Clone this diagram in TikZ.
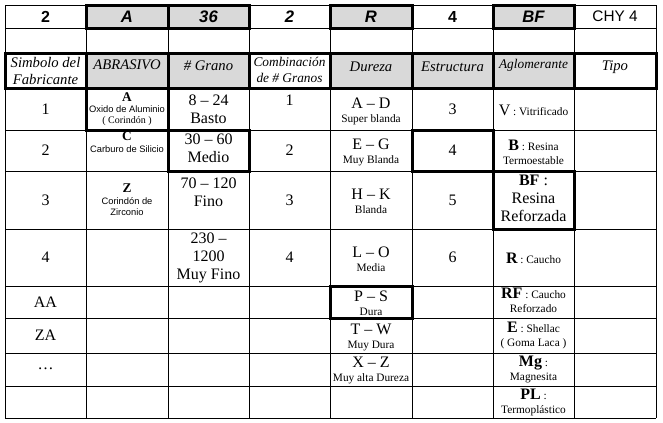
\documentclass[tikz,border=0pt]{standalone}
\usepackage{fontspec}
\setmainfont{Liberation Serif}
\setsansfont{Liberation Sans}
\usepackage{tikz}
\definecolor{cellgray}{rgb}{0.85,0.85,0.85}
\tikzstyle{thin rule}=[line width=0.75pt]
\tikzstyle{thick rule}=[line width=2.25pt]
\tikzstyle{every node}=[inner sep=0pt,align=center]
\tikzstyle{codetext}=[font=\sffamily\bfseries\fontsize{12}{14}\selectfont]
\tikzstyle{codeit}=[font=\sffamily\bfseries\itshape\fontsize{12.5}{14}\selectfont]
\tikzstyle{headtext}=[font=\itshape\fontsize{11}{13}\selectfont]
\tikzstyle{bigtext}=[font=\fontsize{12}{13.5}\selectfont]
\tikzstyle{smalltext}=[font=\fontsize{8.5}{10.5}\selectfont]
\tikzstyle{tinytext}=[font=\fontsize{7.5}{8.5}\selectfont]
\newcommand{\keyletter}[1]{{\fontsize{12}{14}\selectfont\bfseries #1}}
\newcommand{\major}[1]{{\fontsize{12}{14}\selectfont #1}}
\newcommand{\sansline}[1]{{\sffamily\fontsize{7}{8.5}\selectfont #1}}

\begin{document}
\begin{tikzpicture}[x=0.75pt,y=-0.75pt]
\useasboundingbox (0,0) rectangle (663,422);
% gray cells
\foreach \x/\xx in {86/168,168/249,330/412,493/574}
  \fill[cellgray] (\x,5) rectangle (\xx,28);
\foreach \x/\xx in {86/168,168/249,330/412,412/493,493/574}
  \fill[cellgray] (\x,53) rectangle (\xx,88);
% grid
\foreach \x in {5,86,168,249,330,412,493,574,656}
  \draw[thin rule] (\x,5) -- (\x,418);
\foreach \y in {5,28,53,88,130,171,229,286,318,353,386,418}
  \draw[thin rule] (5,\y) -- (656,\y);
% thick boxes
\foreach \x/\xx in {86/168,168/249,330/412,493/574}
  \draw[thick rule] (\x,5) rectangle (\xx,28);
\draw[thick rule] (5,53) rectangle (656,88);
\foreach \x in {86,168,249,330,412,493,574}
  \draw[thick rule] (\x,53) -- (\x,88);
\draw[thick rule] (86,88) rectangle (168,130);
\draw[thick rule] (168,130) rectangle (249,171);
\draw[thick rule] (412,130) rectangle (493,171);
\draw[thick rule] (493,171) rectangle (574,229);
\draw[thick rule] (330,286) rectangle (412,318);
% code row
\node[codetext] (t1) at (45.5,17) {2};
\node[codeit] (t2) at (127,17) {A};
\node[codeit] (t3) at (208.5,17) {36};
\node[codeit] (t4) at (289.5,17) {2};
\node[codeit] (t5) at (371,17) {R};
\node[codetext] (t6) at (452.5,17) {4};
\node[codeit] (t7) at (533.5,17) {BF};
\node[codetext,font=\sffamily\fontsize{11.5}{14}\selectfont] (t8) at (615,16) {CHY 4};
% header row
\node[headtext] (h1) at (45.5,71) {Simbolo del\\Fabricante};
\node[headtext] (h2) at (127,65) {ABRASIVO};
\node[headtext] (h3) at (208.5,66) {\# Grano};
\node[headtext,font=\itshape\fontsize{10}{12}\selectfont] (h4) at (289.5,70) {Combinación\\de \# Granos};
\node[headtext] (h5) at (371,67) {Dureza};
\node[headtext] (h6) at (452.5,67) {Estructura};
\node[headtext,font=\itshape\fontsize{10}{12}\selectfont] (h7) at (533.5,65) {Aglomerante};
\node[headtext] (h8) at (615,67) {Tipo};
% simbolo
\node[bigtext] (s1) at (45.5,109) {1};
\node[bigtext] (s2) at (45.5,150) {2};
\node[bigtext] (s3) at (45.5,200) {3};
\node[bigtext] (s4) at (45.5,257) {4};
\node[bigtext] (s5) at (45.5,302) {AA};
\node[bigtext] (s6) at (45.5,335) {ZA};
\node[bigtext] (s7) at (45.5,369) {\dots};
% abrasivo
\node[tinytext] (a1) at (127,109) {\textbf{\fontsize{10}{12}\selectfont A}\\\sansline{Oxido de Aluminio}\\( Corindón )};
\node[tinytext] (a2) at (127,142) {\textbf{\fontsize{10}{12}\selectfont C}\\\sansline{Carburo de Silicio}};
\node[tinytext] (a3) at (127,200) {\textbf{\fontsize{10}{12}\selectfont Z}\\\sansline{Corindón de}\\\sansline{Zirconio}};
% grano
\node[bigtext] (g1) at (208.5,109) {8 – 24\\Basto};
\node[bigtext] (g2) at (208.5,148) {30 – 60\\Medio};
\node[bigtext] (g3) at (208.5,192) {70 – 120\\Fino};
\node[bigtext] (g4) at (208.5,258) {230 –\\1200\\Muy Fino};
% combinacion
\node[bigtext] (c1) at (289.5,100) {1};
\node[bigtext] (c2) at (289.5,150) {2};
\node[bigtext] (c3) at (289.5,200) {3};
\node[bigtext] (c4) at (289.5,257) {4};
% dureza
\node[smalltext] (d1) at (371,111) {\major{A – D}\\Super blanda};
\node[smalltext] (d2) at (371,152) {\major{E – G}\\Muy Blanda};
\node[smalltext] (d3) at (371,201) {\major{H – K}\\Blanda};
\node[smalltext] (d4) at (371,259) {\major{L – O}\\Media};
\node[smalltext] (d5) at (371,303) {\major{P – S}\\Dura};
\node[smalltext] (d6) at (371,337) {\major{T – W}\\Muy Dura};
\node[smalltext] (d7) at (371,370) {\major{X – Z}\\Muy alta Dureza};
% estructura
\node[bigtext] (e1) at (452.5,109) {3};
\node[bigtext] (e2) at (452.5,150) {4};
\node[bigtext] (e3) at (452.5,200) {5};
\node[bigtext] (e4) at (452.5,257) {6};
% aglomerante
\node[smalltext] (b1) at (533.5,110) {\major{V} : Vitrificado};
\node[smalltext] (b2) at (533.5,152) {\keyletter{B} : Resina\\Termoestable};
\node[bigtext] (b3) at (533.5,198) {\textbf{BF} :\\Resina\\Reforzada};
\node[smalltext] (b4) at (533.5,258) {\keyletter{R} : Caucho};
\node[smalltext] (b5) at (533.5,300) {\keyletter{RF} : Caucho\\Reforzado};
\node[smalltext] (b6) at (533.5,335) {\keyletter{E} : Shellac\\( Goma Laca )};
\node[smalltext] (b7) at (533.5,369) {\keyletter{Mg} :\\Magnesita};
\node[smalltext] (b8) at (533.5,402) {\keyletter{PL} :\\Termoplástico};
\end{tikzpicture}
\end{document}
